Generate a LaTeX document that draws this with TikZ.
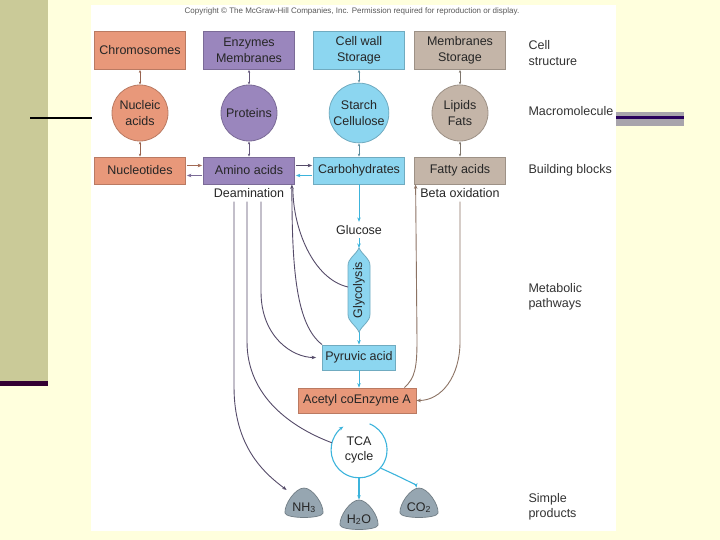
\documentclass[tikz,border=0pt]{standalone}
\usepackage{fontspec}
\setmainfont{Liberation Sans}
\usetikzlibrary{arrows.meta,positioning,shapes.geometric}

\definecolor{slidebg}{RGB}{255,255,221}
\definecolor{olive}{RGB}{202,202,152}
\definecolor{plum}{RGB}{51,0,51}
\definecolor{bargrey}{RGB}{168,164,172}
\definecolor{salmon}{RGB}{232,152,122}
\definecolor{lilac}{RGB}{154,134,189}
\definecolor{sky}{RGB}{140,214,240}
\definecolor{taupe}{RGB}{196,181,168}
\definecolor{skyline}{RGB}{60,180,220}
\definecolor{deamline}{RGB}{85,75,105}
\definecolor{fatline}{RGB}{140,115,100}
\definecolor{blobgrey}{RGB}{150,166,177}

\begin{document}
\begin{tikzpicture}[x=1pt,y=-1pt,
    >={Stealth[length=4.5pt,width=3.5pt]},
    every node/.style={font=\fontsize{12.5}{15.5}\selectfont, text=black!85},
    box/.style={draw=#1!80!black, fill=#1, line width=0.8pt, minimum width=91pt, align=center, inner sep=2pt},
    mol/.style={circle, draw=#1!80!black, fill=#1, line width=0.8pt, minimum size=56pt, align=center, inner sep=1pt},
    blobshape/.style={draw=blobgrey!75!black, fill=blobgrey, line width=0.7pt},
    blobtext/.style={minimum width=34pt, minimum height=30pt, inner sep=0pt, text height=19pt, text depth=3pt, font=\fontsize{12.5}{14}\selectfont},
    rowlabel/.style={anchor=west, align=left, text=black!80},
    smallarrow/.style={line width=0.6pt, arrows={Stealth[length=3pt,width=2.4pt]-Stealth[length=3pt,width=2.4pt]}},
    deampath/.style={draw=deamline, line width=0.9pt},
    fatpath/.style={draw=fatline, line width=0.9pt},
    skypath/.style={draw=skyline, line width=1.1pt}]

    % slide background
    \useasboundingbox (0,0) rectangle (720,540);
    \fill[slidebg] (0,0) rectangle (720,540);
    \fill[olive] (0,0) rectangle (48,382);
    \fill[plum] (0,381) rectangle (48,386);
    \fill[white] (91,5) rectangle (616,531);
    \draw[line width=2pt] (30,118) -- (92,118);
    \fill[bargrey] (616,112) rectangle (684,126);
    \fill[plum!80!blue] (616,116.5) rectangle (684,119.5);

    \node[font=\fontsize{8}{9}\selectfont, text=black!65] (copy) at (352,11)
        {Copyright \textcopyright{} The McGraw-Hill Companies, Inc. Permission required for reproduction or display.};

    % the four columns
    \foreach \col/\x/\clr/\cell/\macro/\block in {
        nuc/140/salmon/{Chromosomes}/{Nucleic\\acids}/{Nucleotides},
        ami/249/lilac/{Enzymes\\Membranes}/{Proteins}/{Amino acids},
        car/359/sky/{Cell wall\\Storage}/{Starch\\Cellulose}/{Carbohydrates},
        fat/460/taupe/{Membranes\\Storage}/{Lipids\\Fats}/{Fatty acids}}
    {
        \node[box=\clr, minimum height=38pt] (cell-\col) at (\x,50.5) {\cell};
        \node[mol=\clr] (macro-\col) at (\x,113) {\macro};
        \node[box=\clr, minimum height=27pt] (block-\col) at (\x,170.5) {\block};
        \draw[smallarrow, draw=\clr!65!black] (cell-\col) -- (macro-\col);
        \draw[smallarrow, draw=\clr!65!black] (macro-\col) -- (block-\col);
    }

    % between the building blocks
    \draw[->, line width=0.6pt, draw=salmon!70!black, shorten <=1pt, shorten >=1pt] ([yshift=5pt]block-nuc.east) -- ([yshift=5pt]block-ami.west);
    \draw[->, line width=1.6pt, draw=lilac!80!black, shorten <=1pt, shorten >=1pt] ([yshift=-5pt]block-ami.west) -- ([yshift=-5pt]block-nuc.east);
    \draw[->, line width=0.6pt, draw=deamline, shorten <=1pt, shorten >=1pt] ([yshift=5pt]block-ami.east) -- ([yshift=5pt]block-car.west);
    \draw[->, line width=1.6pt, draw=skyline, shorten <=1pt, shorten >=1pt] ([yshift=-5pt]block-car.west) -- ([yshift=-5pt]block-ami.east);

    \node[below=1pt of block-ami] (deam) {Deamination};
    \node[below=1pt of block-fat] (beta) {Beta oxidation};

    % glycolysis
    \node (glucose) at (359,230) {Glucose};
    \path[draw=sky!80!black, fill=sky, line width=0.8pt] (359,248) .. controls (355,256) and (348,258) .. (348,266)
        -- (348,314) .. controls (348,322) and (355,324) .. (359,332) .. controls (363,324) and (370,322) .. (370,314)
        -- (370,266) .. controls (370,258) and (363,256) .. (359,248) -- cycle;
    \coordinate (glyctop) at (359,248);
    \coordinate (glycbot) at (359,332);
    \coordinate (glycleft) at (348,287);
    \node[rotate=90] (glyc) at (359,290) {Glycolysis};

    \node[box=sky, minimum width=73pt, minimum height=25pt] (pyr) at (359,357.5) {Pyruvic acid};
    \node[box=salmon, minimum width=118pt, minimum height=25pt] (acetyl) at (357,400.5) {Acetyl coEnzyme A};
    \node[circle, minimum size=56pt, align=center, inner sep=0pt] (tca) at (359,450) {TCA\\cycle};

    % simple products
    \foreach \b/\x/\y/\txt in {nh3/304/503/{NH\textsubscript{3}}, h2o/359/515/{H\textsubscript{2}O}, co2/419/503/{CO\textsubscript{2}}}
        \draw[blobshape] (\x,\y-15) .. controls (\x+9,\y-15) and (\x+20,\y+2) .. (\x+19,\y+10)
            .. controls (\x+18,\y+16) and (\x-18,\y+16) .. (\x-19,\y+10)
            .. controls (\x-20,\y+2) and (\x-9,\y-15) .. (\x,\y-15) -- cycle
            (\x,\y) node[blobtext] (\b) {\txt};

    \draw[->, line width=0.9pt, draw=skyline] (block-car) -- (glucose);
    \draw[->, line width=0.9pt, draw=skyline] (glucose) -- (glyctop);
    \draw[->, line width=0.9pt, draw=skyline] (glycbot) -- (pyr);
    \draw[->, line width=0.9pt, draw=skyline] (pyr.south) -- (pyr.south |- acetyl.north);

    % TCA cycle
    \draw[skypath, ->] (tca.68) arc[start angle=68, end angle=-236, radius=28pt];
    \draw[skypath, ->] (tca.south) -- (h2o);
    \draw[skypath, ->] (tca.-40) .. controls +(18,8) and +(-3,-18) .. (co2);

    % amino acid routes
    \draw[deampath, ->] ([xshift=-15pt]deam.south) -- ++(0,185) .. controls +(0,60) and +(-40,-30) .. (nh3);
    \draw[deampath] ([xshift=-2pt]deam.south) -- ++(0,140) .. controls +(0,55) and +(-40,-15) .. (tca.165);
    \draw[deampath, ->, shorten >=6pt] ([xshift=12pt]deam.south) -- ++(0,90) .. controls +(0,45) and +(-30,0) .. (pyr.west);
    \draw[deampath, ->] (pyr.north west) .. controls +(-26,-20) and +(0,85) .. ([xshift=-3pt]block-ami.south east);
    \draw[deampath] (glycleft) .. controls +(-35,-8) and +(0,40) .. ([xshift=-2pt,yshift=-4pt]block-ami.south east);

    % fatty acid routes
    \draw[fatpath, ->] ([xshift=-12pt]acetyl.north east) .. controls (415,378) and (417,368) .. (417,340) -- ([xshift=1.5pt]block-fat.south west);
    \draw[fatpath, ->] (beta.south) -- ++(0,140) .. controls +(0,35) and +(25,0) .. (acetyl.east);

    % row labels
    \node[rowlabel] (lab-cell) at (525,53) {Cell\\structure};
    \node[rowlabel] (lab-macro) at (525,111) {Macromolecule};
    \node[rowlabel] (lab-block) at (525,170) {Building blocks};
    \node[rowlabel] (lab-path) at (525,297) {Metabolic\\pathways};
    \node[rowlabel] (lab-simple) at (525,507) {Simple\\products};
\end{tikzpicture}
\end{document}
